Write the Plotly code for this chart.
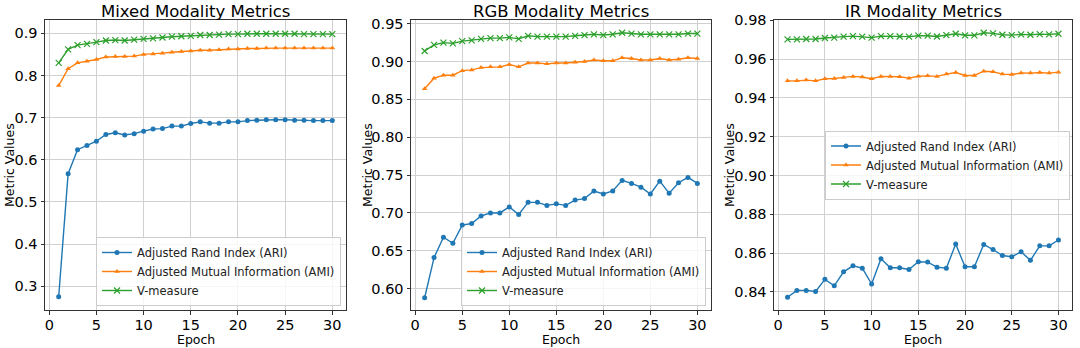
import plotly.graph_objects as go
from plotly.subplots import make_subplots

epochs = list(range(1, 31))

mixed_ari = [0.275, 0.567, 0.624, 0.634, 0.644, 0.660, 0.664, 0.659, 0.662, 0.668,
             0.673, 0.674, 0.680, 0.680, 0.686, 0.690, 0.687, 0.687, 0.690, 0.690,
             0.693, 0.694, 0.695, 0.695, 0.695, 0.694, 0.694, 0.693, 0.693, 0.693]
mixed_ami = [0.776, 0.816, 0.830, 0.834, 0.838, 0.844, 0.845, 0.845, 0.846, 0.850,
             0.851, 0.853, 0.855, 0.857, 0.858, 0.860, 0.860, 0.861, 0.863, 0.863,
             0.864, 0.864, 0.865, 0.865, 0.865, 0.865, 0.865, 0.865, 0.865, 0.865]
mixed_v = [0.830, 0.862, 0.872, 0.875, 0.879, 0.883, 0.884, 0.883, 0.885, 0.887,
           0.888, 0.890, 0.892, 0.893, 0.894, 0.896, 0.896, 0.897, 0.898, 0.898,
           0.899, 0.899, 0.899, 0.899, 0.899, 0.899, 0.898, 0.898, 0.898, 0.898]

rgb_ari = [0.588, 0.641, 0.668, 0.660, 0.684, 0.686, 0.696, 0.700, 0.700, 0.708,
           0.698, 0.714, 0.714, 0.710, 0.712, 0.710, 0.717, 0.719, 0.729, 0.725,
           0.729, 0.743, 0.739, 0.734, 0.725, 0.742, 0.726, 0.740, 0.747, 0.739]
rgb_ami = [0.864, 0.878, 0.882, 0.882, 0.888, 0.889, 0.892, 0.893, 0.893, 0.896,
           0.893, 0.898, 0.898, 0.897, 0.898, 0.898, 0.899, 0.900, 0.902, 0.901,
           0.901, 0.905, 0.904, 0.902, 0.902, 0.904, 0.902, 0.903, 0.905, 0.904]
rgb_v = [0.914, 0.922, 0.925, 0.924, 0.927, 0.928, 0.930, 0.931, 0.931, 0.932,
         0.930, 0.934, 0.933, 0.933, 0.933, 0.933, 0.934, 0.935, 0.936, 0.935,
         0.936, 0.938, 0.937, 0.936, 0.936, 0.936, 0.936, 0.936, 0.937, 0.937]

ir_ari = [0.8372, 0.8407, 0.8407, 0.8402, 0.8464, 0.8431, 0.8503, 0.8534, 0.8522, 0.8440,
          0.8570, 0.8524, 0.8524, 0.8515, 0.8555, 0.8553, 0.8527, 0.8522, 0.8646, 0.8529,
          0.8529, 0.8644, 0.8618, 0.8587, 0.8581, 0.8606, 0.8562, 0.8637, 0.8637, 0.8667]
ir_ami = [0.9488, 0.9488, 0.9492, 0.9488, 0.9499, 0.9500, 0.9506, 0.9511, 0.9508, 0.9499,
          0.9511, 0.9511, 0.9509, 0.9502, 0.9512, 0.9514, 0.9511, 0.9523, 0.9531, 0.9516,
          0.9516, 0.9538, 0.9535, 0.9523, 0.9521, 0.9529, 0.9528, 0.9531, 0.9528, 0.9533]
ir_v = [0.9702, 0.9702, 0.9704, 0.9704, 0.9709, 0.9711, 0.9716, 0.9719, 0.9716, 0.9711,
        0.9719, 0.9719, 0.9717, 0.9716, 0.9721, 0.9721, 0.9717, 0.9724, 0.9731, 0.9723,
        0.9723, 0.9736, 0.9733, 0.9726, 0.9724, 0.9728, 0.9726, 0.9729, 0.9728, 0.9731]

titles = ["Mixed Modality Metrics", "RGB Modality Metrics", "IR Modality Metrics"]
series_names = ["Adjusted Rand Index (ARI)", "Adjusted Mutual Information (AMI)", "V-measure"]
colors = ["#1f77b4", "#ff7f0e", "#2ca02c"]
symbols = ["circle", "triangle-up", "x-thin"]

panels = [
    (mixed_ari, mixed_ami, mixed_v),
    (rgb_ari, rgb_ami, rgb_v),
    (ir_ari, ir_ami, ir_v),
]

W, H = 1080, 348
# plot areas in pixels (left, right), shared top/bottom
x_px = [(45, 346), (411, 711), (774, 1072)]
top_px, bot_px = 20, 310
y_ranges = [(0.2438, 0.9316), (0.5718, 0.9549), (0.8306, 0.9802)]
y_ticks = [[0.3, 0.4, 0.5, 0.6, 0.7, 0.8, 0.9],
           [0.60, 0.65, 0.70, 0.75, 0.80, 0.85, 0.90, 0.95],
           [0.84, 0.86, 0.88, 0.90, 0.92, 0.94, 0.96, 0.98]]
y_fmt = [".1f", ".2f", ".2f"]
# legend boxes (right px, anchor y px, anchor)
legend_pos = [(341, 306, "bottom"), (706, 306, "bottom"), (1070, 165, "middle")]
ylab_x = [9, 367, 729]

fig = make_subplots(rows=1, cols=3)
font = "DejaVu Sans"

for p, data in enumerate(panels):
    leg = "legend" if p == 0 else f"legend{p + 1}"
    for s, vals in enumerate(data):
        marker = dict(size=5, color=colors[s], symbol=symbols[s])
        if symbols[s] == "x-thin":
            marker["line"] = dict(width=1.2, color=colors[s])
            marker["size"] = 6
        fig.add_trace(go.Scatter(
            x=epochs, y=vals, mode="lines+markers",
            name=series_names[s],
            line=dict(color=colors[s], width=1.4),
            marker=marker,
            legend=leg,
        ), row=1, col=p + 1)

    xa = "xaxis" if p == 0 else f"xaxis{p + 1}"
    ya = "yaxis" if p == 0 else f"yaxis{p + 1}"
    l, r = x_px[p]
    fig.layout[xa].update(
        domain=[l / W, r / W], range=[-0.45, 31.45],
        tickvals=[0, 5, 10, 15, 20, 25, 30],
    )
    fig.layout[ya].update(
        domain=[1 - bot_px / H, 1 - top_px / H], range=list(y_ranges[p]),
        tickvals=y_ticks[p], tickformat=y_fmt[p],
    )
    lx, ly, anchor = legend_pos[p]
    fig.layout[leg] = dict(
        x=lx / W, y=1 - ly / H, xanchor="right", yanchor=anchor,
        bgcolor="rgba(255,255,255,0.8)", bordercolor="#cccccc", borderwidth=1,
        font=dict(size=11.5, family=font, color="#222"),
        tracegroupgap=0, itemwidth=30,
    )
    cx = (l + r) / 2 / W
    fig.add_annotation(
        text=titles[p], x=cx, y=1 - 11 / H, xref="paper", yref="paper",
        xanchor="center", yanchor="middle", showarrow=False,
        font=dict(size=16.5, family=font, color="black"),
    )
    fig.add_annotation(
        text="Epoch", x=cx, y=1 - 339 / H, xref="paper", yref="paper",
        xanchor="center", yanchor="middle", showarrow=False,
        font=dict(size=12.5, family=font, color="black"),
    )
    fig.add_annotation(
        text="Metric Values", x=ylab_x[p] / W, y=1 - 165 / H, xref="paper", yref="paper",
        xanchor="center", yanchor="middle", showarrow=False, textangle=-90,
        font=dict(size=12.5, family=font, color="black"),
    )

fig.update_xaxes(showgrid=True, gridcolor="#d0d0d0", gridwidth=1,
                 showline=True, linecolor="#333", linewidth=1, mirror=True,
                 ticks="outside", ticklen=3.5, tickcolor="#333", automargin=False,
                 ticklabelstandoff=-2,
                 tickfont=dict(size=14.5, color="black"), zeroline=False)
fig.update_yaxes(showgrid=True, gridcolor="#d0d0d0", gridwidth=1,
                 showline=True, linecolor="#333", linewidth=1, mirror=True,
                 ticks="outside", ticklen=3.5, tickcolor="#333", automargin=False,
                 tickfont=dict(size=14.5, color="black"), zeroline=False)

fig.update_layout(
    width=W, height=H,
    margin=dict(l=0, r=0, t=0, b=0),
    paper_bgcolor="white", plot_bgcolor="white",
    font=dict(family=font, color="black"),
    showlegend=True,
)

# page body has a default 8px margin; drop it so the figure fills the window
fig.write_html("out.html", config={"displayModeBar": False},
               post_script="document.body.style.margin='0';")
